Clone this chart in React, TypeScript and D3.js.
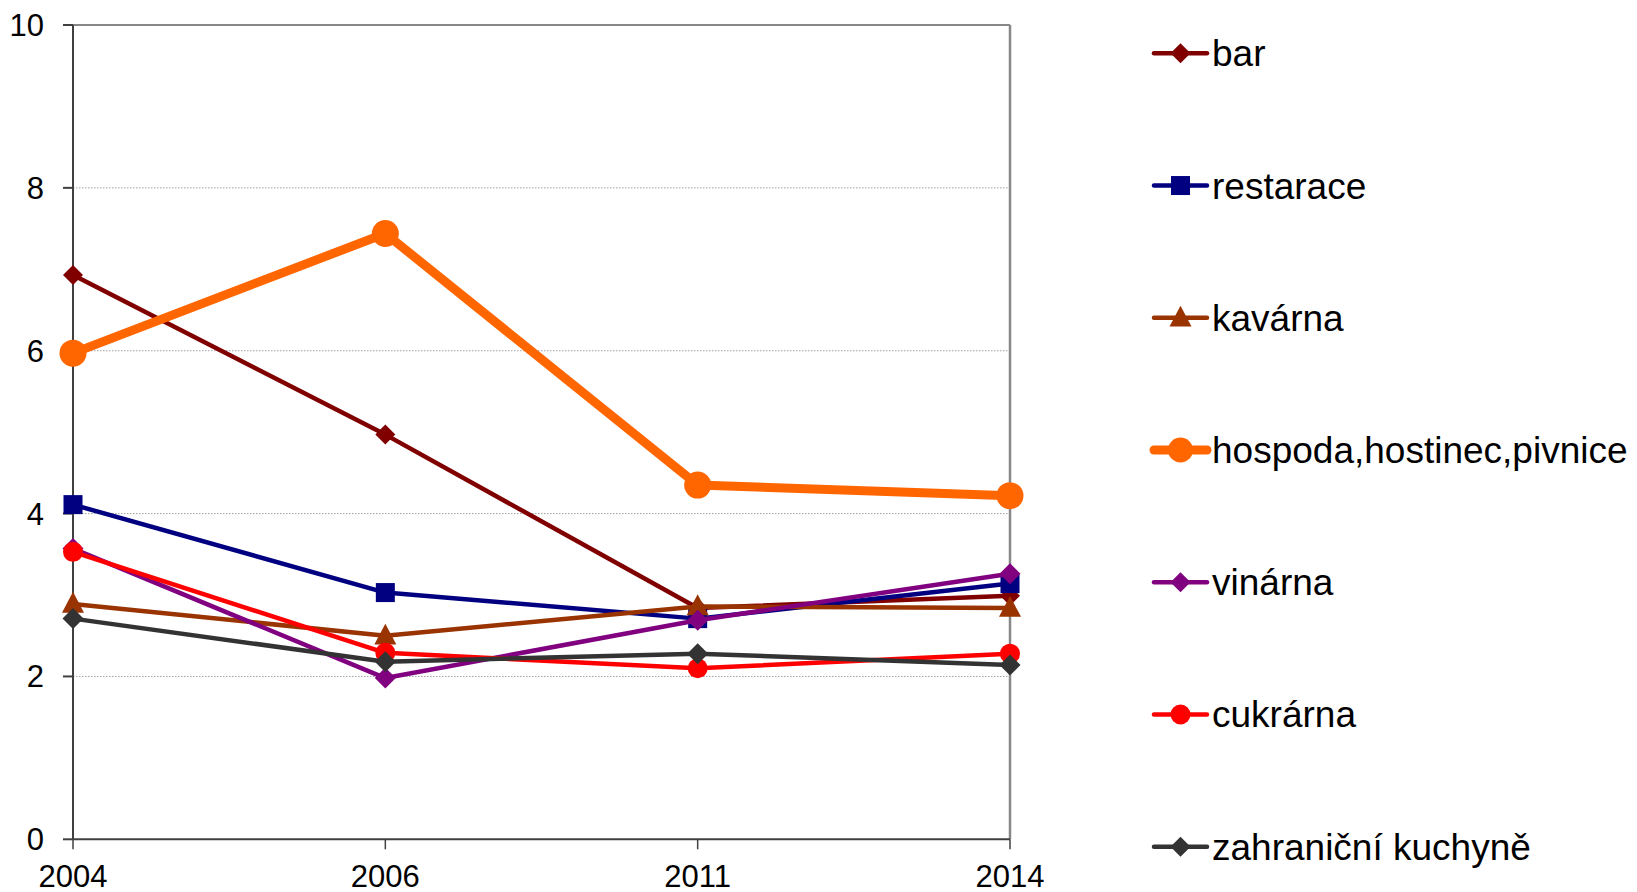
import React from "react";
import * as d3 from "d3";

const years = ["2004", "2006", "2011", "2014"];
const yTicks = [0, 2, 4, 6, 8, 10];

const seriesNames = ["bar", "restarace", "kavárna", "hospoda,hostinec,pivnice", "vinárna", "cukrárna", "zahraniční kuchyně"];
const barVals = [6.93, 4.97, 2.84, 2.99];
const restaraceVals = [4.11, 3.03, 2.71, 3.14];
const kavarnaVals = [2.89, 2.5, 2.86, 2.84];
const hospodaVals = [5.97, 7.44, 4.35, 4.22];
const vinarnaVals = [3.57, 1.98, 2.69, 3.26];
const cukrarnaVals = [3.53, 2.29, 2.1, 2.28];
const zahranicniVals = [2.71, 2.18, 2.28, 2.14];

const colors = ["#800000", "#000080", "#993300", "#FF6600", "#800080", "#FF0000", "#333333"];
const shapes = ["diamond", "square", "triangle", "circle", "diamond", "circle", "diamond"];
const widths = [4.5, 4.5, 4.5, 9, 4.5, 4.5, 4.5];
const markerSizes = [10, 9.5, 11, 13.5, 10.5, 10, 10.5];
const legendMarkerSizes = [10, 9.5, 11, 12.5, 10, 10, 10];

const allVals = [barVals, restaraceVals, kavarnaVals, hospodaVals, vinarnaVals, cukrarnaVals, zahranicniVals];

function Marker({ shape, x, y, r, color }: { shape: string; x: number; y: number; r: number; color: string }) {
  if (shape === "circle") return <circle cx={x} cy={y} r={r} fill={color} />;
  if (shape === "square") return <rect x={x - r} y={y - r} width={2 * r} height={2 * r} fill={color} />;
  if (shape === "triangle")
    return <path d={`M${x},${y - r * 1.1} L${x + r},${y + r * 0.8} L${x - r},${y + r * 0.8} Z`} fill={color} />;
  return <path d={`M${x},${y - r} L${x + r},${y} L${x},${y + r} L${x - r},${y} Z`} fill={color} />;
}

export default function App() {
  const W = 1637, H = 892;
  const left = 73, right = 1010, top = 25, bottom = 839.3;
  const x = d3.scalePoint<string>().domain(years).range([left, right]);
  const y = d3.scaleLinear().domain([0, 10]).range([bottom, top]);
  const line = d3.line<number>().x((_, i) => x(years[i])!).y((d) => y(d));
  const font = "'Liberation Sans', Arial, sans-serif";
  const legendX1 = 1154, legendX2 = 1207, legendTextX = 1212;
  const legendY = d3.scaleLinear().domain([0, 6]).range([53.3, 846.7]);

  return (
    <svg width={W} height={H} style={{ position: "absolute", left: 0, top: 0, background: "#fff" }} fontFamily={font}>
      <rect x={0} y={0} width={W} height={H} fill="#fff" />
      {yTicks.filter((t) => t > 0 && t < 10).map((t) => (
        <line key={t} x1={left} x2={right} y1={y(t)} y2={y(t)} stroke="#a0a0a0" strokeWidth={1} strokeDasharray="1.5,1.5" />
      ))}
      <line x1={left} x2={right} y1={top} y2={top} stroke="#888" strokeWidth={2} />
      <line x1={right} x2={right} y1={top} y2={bottom} stroke="#888" strokeWidth={2.5} />
      <line x1={left} x2={left} y1={top} y2={bottom} stroke="#404040" strokeWidth={2} />
      <line x1={left} x2={right} y1={bottom} y2={bottom} stroke="#404040" strokeWidth={2} />
      {yTicks.map((t) => (
        <g key={t}>
          <line x1={left - 10} x2={left} y1={y(t)} y2={y(t)} stroke="#404040" strokeWidth={2} />
          <text x={44} y={y(t) + 11} fontSize={31} textAnchor="end" fill="#000">{t}</text>
        </g>
      ))}
      {years.map((yr) => (
        <g key={yr}>
          <line x1={x(yr)} x2={x(yr)} y1={bottom} y2={bottom + 10} stroke="#404040" strokeWidth={1.5} />
          <text x={x(yr)} y={886.5} fontSize={31} textAnchor="middle" fill="#000">{yr}</text>
        </g>
      ))}
      {allVals.map((vals, si) => (
        <g key={si}>
          <path d={line(vals)!} fill="none" stroke={colors[si]} strokeWidth={widths[si]} strokeLinejoin="round" />
          {vals.map((v, i) => (
            <Marker key={i} shape={shapes[si]} x={x(years[i])!} y={y(v)} r={markerSizes[si]} color={colors[si]} />
          ))}
        </g>
      ))}
      {seriesNames.map((name, si) => {
        const ly = legendY(si);
        return (
          <g key={name}>
            <line x1={legendX1} x2={legendX2} y1={ly} y2={ly} stroke={colors[si]} strokeWidth={si === 3 ? 9 : 4.5} strokeLinecap="round" />
            <Marker shape={shapes[si]} x={(legendX1 + legendX2) / 2} y={ly} r={legendMarkerSizes[si]} color={colors[si]} />
            <text x={legendTextX} y={ly + 13} fontSize={37} fill="#000">{name}</text>
          </g>
        );
      })}
    </svg>
  );
}
